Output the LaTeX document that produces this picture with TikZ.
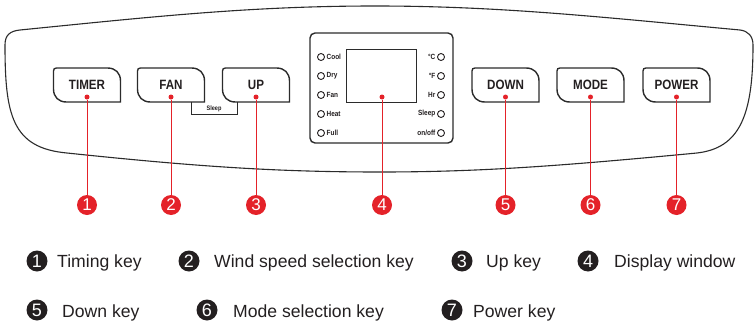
\documentclass[tikz,border=0pt]{standalone}
\usepackage{fontspec}
\setmainfont{Liberation Sans}
\newfontfamily\keyfont[FakeStretch=0.86]{Liberation Sans}
\usetikzlibrary{positioning}
\definecolor{PanelInk}{HTML}{231F20}
\definecolor{PanelLine}{HTML}{2B2B2B}
\definecolor{PanelRed}{HTML}{E42229}
\tikzset{
  keytext/.style={font=\keyfont\bfseries\fontsize{13.5}{14}\selectfont,text=PanelInk,inner sep=0pt},
  ledlabel/.style={font=\keyfont\bfseries\fontsize{7.5}{8}\selectfont,text=PanelInk,inner sep=0pt},
  led/.style={circle,draw=PanelInk,line width=0.9pt,minimum size=7pt,inner sep=0pt},
  reddot/.style={circle,fill=PanelRed,minimum size=5pt,inner sep=0pt},
  rednum/.style={circle,fill=PanelRed,text=white,minimum size=20pt,inner sep=0pt,
    font=\fontsize{17}{18}\selectfont},
  blacknum/.style={circle,fill=PanelInk,text=white,minimum size=21pt,inner sep=0pt,
    font=\fontsize{18}{19}\selectfont},
  legendtext/.style={anchor=base west,inner sep=0pt,text=PanelInk,
    font=\fontsize{17.6}{20}\selectfont},
  leader/.style={PanelRed,line width=0.9pt},
}
% key outline: centre x, node name, label
\newcommand{\panelkey}[3]{%
  \draw[PanelLine,line width=1.4pt]
    ({#1-33.5},80) -- ({#1-33.5},89)
    .. controls ({#1-33.5},97) and ({#1-28.5},102) .. ({#1-20.5},102)
    -- ({#1+33.5},102) -- ({#1+33.5},81)
    .. controls ({#1+33.5},73) and ({#1+28.5},68) .. ({#1+20.5},68)
    -- ({#1-30.5},68)
    .. controls ({#1-32.5},68) and ({#1-33.5},69) .. ({#1-33.5},71) -- cycle;
  \node[keytext] (#2) at (#1,85) {#3};
  \node[reddot] (#2 dot) at (#1,97) {};
}
\begin{document}
\begin{tikzpicture}[x=1pt,y=-1pt]
  \useasboundingbox (0,0) rectangle (755,324);

  % panel outline
  \draw[PanelLine,line width=1.1pt]
    (5,45) .. controls (5,35) and (10,31) .. (20,30)
    .. controls (150,17) and (250,6) .. (375,6)
    .. controls (500,6) and (600,17) .. (740,30)
    .. controls (748,31) and (753,36) .. (753,45)
    .. controls (753,115) and (740,148) .. (697,153)
    .. controls (560,166) and (480,172) .. (380,172)
    .. controls (280,172) and (200,167) .. (67,153)
    .. controls (12,148) and (5,115) .. (5,45) -- cycle;

  % keys
  \panelkey{87}{timer}{TIMER}
  \panelkey{171}{fan}{FAN}
  \panelkey{256}{up}{UP}
  \panelkey{505.5}{down}{DOWN}
  \panelkey{590.5}{mode}{MODE}
  \panelkey{676.5}{power}{POWER}

  % sleep bracket
  \draw[PanelLine,line width=0.7pt] (191,102) -- (191,114) -- (237,114) -- (237,102);
  \node[font=\keyfont\bfseries\fontsize{6.5}{7}\selectfont,text=PanelInk,inner sep=0pt]
    (sleep) at (214,109) {Sleep};

  % display window
  \draw[PanelLine,line width=1.4pt,rounded corners=5pt] (310,33) rectangle (453,143);
  \draw[PanelLine,line width=0.8pt] (346,49) rectangle (416,102);
  \node[reddot] (display dot) at (382,97) {};
  \foreach \lbl [count=\i] in {Cool,Dry,Fan,Heat,Full} {
    \node[led] (led l\i) at (321,{38+19*\i}) {};
    \node[ledlabel,right=1.5pt of led l\i] (lbl l\i) {\lbl};
  }
  \foreach \lbl [count=\i] in {°C,°F,Hr,Sleep,on/off} {
    \node[led] (led r\i) at (441,{38+19*\i}) {};
    \node[ledlabel,left=1.5pt of led r\i] (lbl r\i) {\lbl};
  }

  % numbered leaders
  \foreach \k/\x/\n in {timer/87/1,fan/171/2,up/256/3,display/382/4,
                        down/505.5/5,mode/590.5/6,power/676.5/7} {
    \node[rednum] (n\n) at (\x,205) {\n};
    \draw[leader] (\k\space dot) -- (n\n);
  }

  % legend
  \node[blacknum] (k1) at (37,261) {1};
  \node[legendtext] (k1 text) at (57,267) {Timing key};
  \node[blacknum] (k2) at (189,261) {2};
  \node[legendtext] (k2 text) at (214,267) {Wind speed selection key};
  \node[blacknum] (k3) at (462,261) {3};
  \node[legendtext] (k3 text) at (486,267) {Up key};
  \node[blacknum] (k4) at (588,261) {4};
  \node[legendtext] (k4 text) at (614,267) {Display window};
  \node[blacknum] (k5) at (37,310) {5};
  \node[legendtext] (k5 text) at (62,317) {Down key};
  \node[blacknum] (k6) at (207,310) {6};
  \node[legendtext] (k6 text) at (233,317) {Mode selection key};
  \node[blacknum] (k7) at (452,310) {7};
  \node[legendtext] (k7 text) at (473,317) {Power key};
\end{tikzpicture}
\end{document}
